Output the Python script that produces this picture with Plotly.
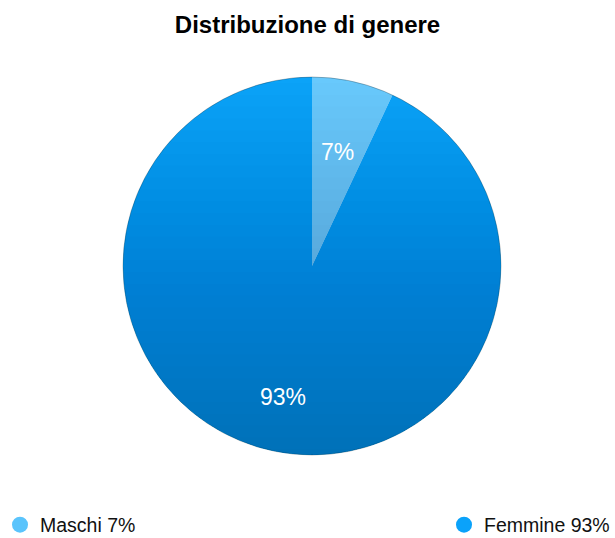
import math
import plotly.graph_objects as go

categories = ["Maschi", "Femmine"]
values = [7, 93]
colors = ["#68C9FC", "#0BA3F8"]
legend_colors = ["#5AC4FC", "#0AA2FA"]
legend_labels = [f"{c} {v}%" for c, v in zip(categories, values)]

W, H = 615, 538
cx, cy, r = 312, 266, 189          # pie centre / radius in pixels (layout)
label_radius = [0.62, 0.71]        # label distance from centre (fraction of r)

fig = go.Figure()
fig.add_trace(go.Pie(
    labels=categories,
    values=values,
    sort=False,
    direction="clockwise",
    rotation=0,
    marker=dict(colors=colors, line=dict(width=0)),
    textinfo="none",
    showlegend=False,
    hoverinfo="label+percent",
    domain=dict(x=[(cx - r) / W, (cx + r) / W], y=[(H - cy - r) / H, (H - cy + r) / H]),
))

# legend entries (circle markers)
legend_refs = ["legend", "legend2"]
for lab, col, lg in zip(legend_labels, legend_colors, legend_refs):
    fig.add_trace(go.Scatter(
        x=[None], y=[None], mode="markers", name=lab,
        marker=dict(symbol="circle", size=16, color=col),
        showlegend=True, legend=lg,
    ))

# vertical shading overlay: stacked circle segments (darker toward bottom)
shapes = []
N = 32
alpha = 1 - (1 - 0.23) ** (1 / N)
yc = H - cy
for i in range(N):
    yk = yc + r - (i + 0.5) * (2 * r / N)
    t = max(-1.0, min(1.0, (yk - yc) / r))
    a0 = math.asin(t)
    pts = []
    m = 60
    start, end = a0, -math.pi - a0
    for j in range(m + 1):
        a = start + (end - start) * j / m
        pts.append((cx + r * math.cos(a), yc + r * math.sin(a)))
    path = "M " + " L ".join(f"{px:.2f},{py:.2f}" for px, py in pts) + " Z"
    shapes.append(dict(type="path", path=path, xref="x", yref="y", layer="above",
                       fillcolor=f"rgba(0,10,40,{alpha:.4f})", line=dict(width=0)))
shapes.append(dict(type="circle", xref="x", yref="y", layer="above",
                   x0=cx - r, x1=cx + r, y0=yc - r, y1=yc + r,
                   line=dict(color="rgba(0,0,0,0.25)", width=1), fillcolor="rgba(0,0,0,0)"))

# percentage labels placed at slice mid-angles computed from the values
total = sum(values)
annotations = []
cum = 0
for v, lf in zip(values, label_radius):
    mid = (cum + v / 2) / total * 2 * math.pi
    cum += v
    annotations.append(dict(
        x=cx + lf * r * math.sin(mid), y=yc + lf * r * math.cos(mid),
        xref="x", yref="y", text=f"{round(v / total * 100)}%", showarrow=False,
        font=dict(size=23, color="white", family="Liberation Sans"),
        xanchor="center", yanchor="middle",
    ))

legend_font = dict(size=19.5, color="#111111", family="Liberation Sans")
fig.update_layout(
    width=W, height=H,
    margin=dict(l=0, r=0, t=0, b=0, autoexpand=False),
    paper_bgcolor="white", plot_bgcolor="rgba(0,0,0,0)",
    title=dict(text="<b>Distribuzione di genere</b>", x=0.5, xanchor="center",
               y=1 - 25 / H, yanchor="middle",
               font=dict(size=24, color="black", family="Liberation Sans")),
    xaxis=dict(visible=False, range=[0, W], fixedrange=True),
    yaxis=dict(visible=False, range=[0, H], fixedrange=True),
    annotations=annotations,
    shapes=shapes,
    legend=dict(orientation="h", x=0, xanchor="left", y=13 / H, yanchor="middle",
                font=legend_font, bgcolor="rgba(0,0,0,0)"),
    legend2=dict(orientation="h", x=1, xanchor="right", y=13 / H, yanchor="middle",
                 font=legend_font, bgcolor="rgba(0,0,0,0)"),
)
fig.write_html("out.html", config={"displayModeBar": False},
               post_script="document.body.style.margin='0';document.body.style.padding='0';")
